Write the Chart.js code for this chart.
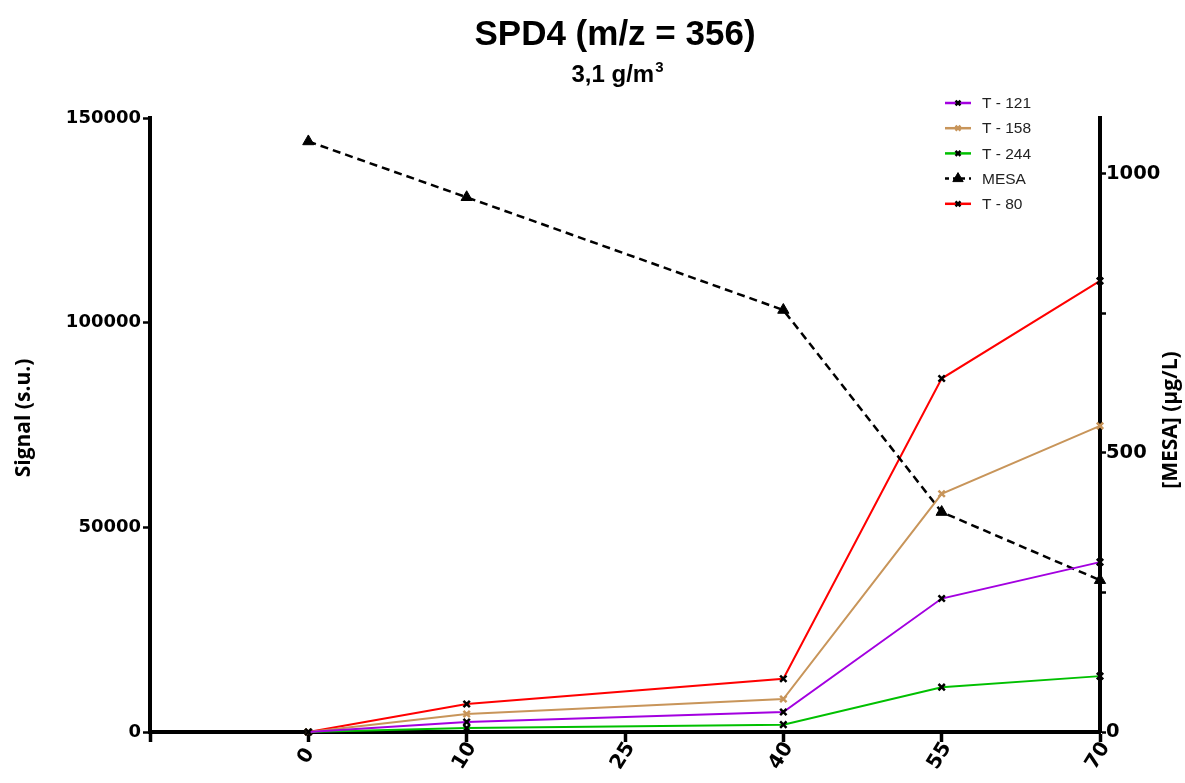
<!DOCTYPE html>
<html>
<head>
<meta charset="utf-8">
<script src="https://cdn.jsdelivr.net/npm/chart.js@4/dist/chart.umd.min.js"></script>
<style>
html,body{margin:0;padding:0;background:#fff;}
#wrap{width:1185px;height:783px;position:relative;}
</style>
</head>
<body>
<div id="wrap"><canvas id="c" width="1185" height="783"></canvas></div>
<script>
// ---- data ----
const xLabels = ['', '0', '10', '25', '40', '55', '70'];
const t121 = [null, 0, 2450, null, 4900, 32600, 41500];
const t158 = [null, 0, 4400, null, 8050, 58200, 74800];
const t244 = [null, 0, 950, null, 1800, 10950, 13650];
const mesa = [null, 1058, 958, null, 756, 394, 272];
const t80  = [null, 0, 6850, null, 13000, 86350, 110200];
const leftTicks = [0, 50000, 100000, 150000];
const rightTicks = [0, 500, 1000];
const titleText = 'SPD4 (m/z = 356)';
const subtitleText = '3,1 g/m';
const subtitleSup = '3';
const yTitle = 'Signal (s.u.)';
const y1Title = '[MESA] (µg/L)';

const LEFT_TICK_FONT = {family: '"DejaVu Sans"', size: 18, weight: 'bold'};
const RIGHT_TICK_FONT = {family: '"DejaVu Sans"', size: 19.5, weight: 'bold'};

function tSeries(label, data, color, markerColor) {
  return {
    label, data, yAxisID: 'y',
    borderColor: color, borderWidth: 2,
    pointStyle: 'crossRot', pointRadius: 4.5, pointBorderWidth: 2.5,
    pointBorderColor: markerColor, pointBackgroundColor: markerColor,
    spanGaps: true, tension: 0, fill: false, clip: false
  };
}

const datasets = [
  tSeries('T - 121', t121, '#A300E0', '#000'),
  tSeries('T - 158', t158, '#C8955A', '#C8955A'),
  tSeries('T - 244', t244, '#00C000', '#000'),
  {
    label: 'MESA', data: mesa, yAxisID: 'y1',
    borderColor: '#000', borderWidth: 2.5, borderDash: [8, 5],
    pointStyle: 'triangle', pointRadius: 6.5, pointBorderWidth: 1,
    pointBorderColor: '#000', pointBackgroundColor: '#000',
    spanGaps: true, tension: 0, fill: false, clip: false
  },
  tSeries('T - 80', t80, '#FF0000', '#000')
];

const textPlugin = {
  id: 'texts',
  afterDraw(chart) {
    const ctx = chart.ctx;
    const xs = chart.scales.x;
    ctx.save();
    ctx.fillStyle = '#000';
    // title
    ctx.font = 'bold 35px "Liberation Sans"';
    ctx.textAlign = 'center';
    ctx.textBaseline = 'alphabetic';
    ctx.fillText(titleText, 615, 45);
    // subtitle with superscript
    ctx.font = 'bold 24px "Liberation Sans"';
    const w1 = ctx.measureText(subtitleText).width;
    ctx.font = 'bold 15px "Liberation Sans"';
    const w2 = ctx.measureText(subtitleSup).width;
    const sx = 617 - (w1 + w2) / 2;
    ctx.textAlign = 'left';
    ctx.font = 'bold 24px "Liberation Sans"';
    ctx.fillText(subtitleText, sx, 82);
    ctx.font = 'bold 15px "Liberation Sans"';
    ctx.fillText(subtitleSup, sx + w1 + 1, 72);
    // axis titles
    ctx.font = 'bold 21px "Open Sans"';
    ctx.textAlign = 'center';
    ctx.textBaseline = 'middle';
    ctx.save();
    ctx.translate(24, 418);
    ctx.rotate(-Math.PI / 2);
    ctx.fillText(yTitle, 0, 0);
    ctx.restore();
    ctx.save();
    ctx.translate(1171, 420);
    ctx.rotate(-Math.PI / 2);
    ctx.fillText(y1Title, 0, 0);
    ctx.restore();
    // x tick labels (rotated, centered)
    ctx.font = 'bold 20px "DejaVu Sans"';
    xLabels.forEach((lab, i) => {
      if (!lab) return;
      const px = xs.getPixelForTick(i);
      ctx.save();
      ctx.translate(px - 2, 756);
      ctx.rotate(-58 * Math.PI / 180);
      ctx.textAlign = 'center';
      ctx.textBaseline = 'middle';
      ctx.fillText(lab, 0, 0);
      ctx.restore();
    });
    // legend
    ctx.font = '15.5px "Liberation Sans"';
    ctx.textAlign = 'left';
    ctx.textBaseline = 'middle';
    chart.data.datasets.forEach((ds, i) => {
      const y = 103 + i * 25.2;
      ctx.save();
      ctx.strokeStyle = ds.borderColor;
      ctx.lineWidth = 2.5;
      ctx.setLineDash(ds.borderDash ? [4, 4] : []);
      ctx.beginPath();
      ctx.moveTo(945, y);
      ctx.lineTo(971, y);
      ctx.stroke();
      ctx.setLineDash([]);
      ctx.strokeStyle = ds.pointBorderColor;
      ctx.fillStyle = ds.pointBackgroundColor;
      ctx.lineWidth = ds.pointBorderWidth;
      Chart.helpers.drawPoint(ctx, {
        pointStyle: ds.pointStyle,
        radius: ds.pointStyle === 'triangle' ? 6 : 3.5,
        rotation: 0,
        borderWidth: ds.pointBorderWidth
      }, 958, y);
      ctx.restore();
      ctx.fillStyle = '#222';
      ctx.fillText(ds.label, 982, y + 1);
    });
    ctx.restore();
  }
};

new Chart(document.getElementById('c'), {
  type: 'line',
  data: { labels: xLabels, datasets },
  plugins: [textPlugin],
  options: {
    responsive: false,
    animation: false,
    devicePixelRatio: 1,
    layout: { padding: { top: 118, left: 0, right: 0, bottom: 0 } },
    plugins: { legend: { display: false }, title: { display: false }, tooltip: { enabled: false } },
    scales: {
      x: {
        type: 'category',
        offset: false,
        grid: { drawOnChartArea: false, drawTicks: true, tickLength: 10, tickWidth: 3.5, tickColor: '#000' },
        border: { display: true, width: 4, color: '#000' },
        ticks: { display: false },
        afterFit(s) { s.height = 51; }
      },
      y: {
        type: 'linear', position: 'left',
        min: leftTicks[0], max: leftTicks[leftTicks.length - 1],
        afterBuildTicks(s) { s.ticks = leftTicks.map(v => ({ value: v })); },
        grid: { drawOnChartArea: false, tickLength: 7, tickWidth: 2.5, tickColor: '#000' },
        border: { display: true, width: 4, color: '#000' },
        ticks: { color: '#000', font: LEFT_TICK_FONT, padding: 2, callback: v => String(v) },
        afterFit(s) { s.width = 150; }
      },
      y1: {
        type: 'linear', position: 'right',
        min: 0, max: 1100,
        afterBuildTicks(s) {
          const t = [];
          for (let v = 0; v <= 1000; v += 250) t.push({ value: v });
          s.ticks = t;
        },
        grid: { drawOnChartArea: false, tickLength: 6, tickWidth: 2.5, tickColor: '#000' },
        border: { display: true, width: 4, color: '#000' },
        ticks: { color: '#000', font: RIGHT_TICK_FONT, padding: 0,
          callback: v => (rightTicks.includes(v) ? String(v) : '') },
        afterFit(s) { s.width = 85; }
      }
    }
  }
});
</script>
</body>
</html>
